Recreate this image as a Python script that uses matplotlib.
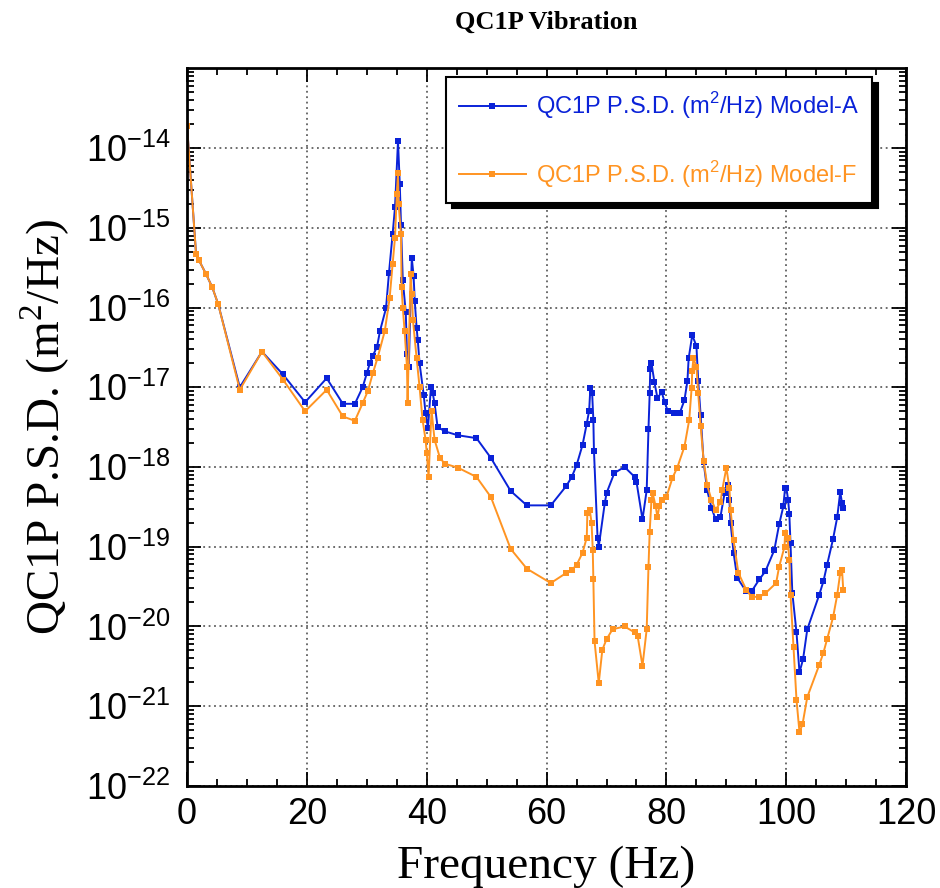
import numpy as np
import matplotlib
matplotlib.use('Agg')
import matplotlib.pyplot as plt
from matplotlib.ticker import FixedLocator, MultipleLocator, FuncFormatter, LogLocator, NullFormatter

# values
freq_a = [0.0, 1.5, 2.0, 3.2, 4.2, 5.2, 8.8, 12.5, 16.0, 19.7, 23.3, 26.0, 28.0, 29.3, 30.0,
          30.5, 31.0, 31.7, 32.2, 33.2, 33.7, 34.3, 34.7, 35.2, 35.5, 35.7, 36.0, 36.5, 36.7,
          37.0, 37.5, 37.8, 38.0, 38.3, 38.5, 38.8, 39.5, 39.8, 40.2, 40.7, 41.0, 41.3, 41.8,
          43.0, 45.2, 48.3, 50.7, 54.0, 56.7, 60.7, 63.3, 64.2, 65.0, 66.0, 66.7, 67.1, 67.3,
          67.6, 67.8, 67.9, 68.5, 68.7, 69.7, 70.0, 71.3, 73.0, 74.7, 75.0, 76.0, 76.7, 77.0,
          77.2, 77.3, 77.5, 78.0, 78.5, 79.2, 79.7, 80.2, 81.3, 82.2, 83.0, 83.5, 83.7, 84.3,
          85.0, 85.3, 85.7, 86.2, 86.8, 87.5, 88.2, 89.0, 89.7, 90.2, 90.5, 90.7, 91.2, 91.8,
          93.3, 94.2, 95.5, 96.5, 98.0, 98.8, 99.5, 99.8, 100.0, 100.3, 100.5, 100.7, 101.0,
          101.7, 102.2, 102.8, 103.5, 105.5, 106.2, 106.8, 107.8, 108.5, 109.0, 109.3, 109.5]
psd_a = [1.9e-14, 4.7e-16, 3.9e-16, 2.6e-16, 1.8e-16, 1.1e-16, 1.0e-17, 2.8e-17, 1.45e-17,
         6.5e-18, 1.3e-17, 6.2e-18, 6.2e-18, 1.0e-17, 1.5e-17, 2.0e-17, 2.5e-17, 3.2e-17,
         5.1e-17, 9.8e-17, 2.75e-16, 8.3e-16, 1.8e-15, 1.23e-14, 3.5e-15, 1.1e-15, 2.2e-16,
         8.7e-17, 2.6e-17, 1.8e-17, 4.2e-16, 2.5e-16, 1.2e-16, 5.6e-17, 3.9e-17, 2.0e-17,
         7.9e-18, 4.7e-18, 3.1e-18, 1.0e-17, 8.4e-18, 6.3e-18, 3.2e-18, 2.8e-18, 2.5e-18,
         2.3e-18, 1.3e-18, 5.0e-19, 3.3e-19, 3.3e-19, 5.8e-19, 7.5e-19, 1.05e-18, 1.9e-18,
         3.5e-18, 5.1e-18, 9.8e-18, 8.4e-18, 3.9e-18, 1.6e-18, 1.3e-19, 1.0e-19, 3.5e-19,
         4.7e-19, 8.4e-19, 1.0e-18, 7.5e-19, 6.5e-19, 2.2e-19, 5.1e-19, 3.0e-18, 8.4e-18,
         1.7e-17, 2.0e-17, 1.15e-17, 7.3e-18, 8.7e-18, 6.5e-18, 5.1e-18, 4.7e-18, 4.7e-18,
         6.9e-18, 1.2e-17, 2.3e-17, 4.5e-17, 3.3e-17, 1.2e-17, 4.5e-18, 1.15e-18, 5.1e-19,
         3.1e-19, 2.2e-19, 2.35e-19, 4.7e-19, 5.9e-19, 3.9e-19, 2.0e-19, 8.4e-20, 4.1e-20,
         2.75e-20, 2.75e-20, 3.9e-20, 4.9e-20, 9.1e-20, 1.9e-19, 3.2e-19, 5.5e-19, 5.5e-19,
         3.9e-19, 2.6e-19, 1.1e-19, 2.65e-20, 8.4e-21, 2.65e-21, 3.9e-21, 9.2e-21, 2.5e-20,
         3.7e-20, 5.9e-20, 1.25e-19, 2.35e-19, 4.9e-19, 3.5e-19, 3.1e-19]

freq_f = [0.0, 1.5, 2.0, 3.2, 4.2, 5.2, 8.8, 12.5, 16.0, 19.7, 23.3, 26.0, 28.0, 29.3, 30.2,
          31.0, 31.8, 33.0, 33.8, 34.3, 34.7, 35.0, 35.2, 35.3, 35.7, 35.8, 36.0, 36.3, 36.7,
          36.8, 37.3, 37.5, 37.7, 38.3, 38.8, 39.3, 39.8, 40.0, 40.3, 40.8, 41.3, 42.2, 43.0,
          45.2, 48.3, 50.7, 54.0, 56.7, 60.7, 63.3, 64.2, 65.0, 66.0, 66.7, 66.8, 67.2, 67.5,
          67.7, 67.8, 68.0, 68.7, 69.3, 70.0, 71.0, 73.0, 74.7, 75.2, 76.0, 76.7, 77.0, 77.2,
          77.5, 77.7, 78.2, 78.5, 78.8, 79.2, 80.0, 81.0, 81.8, 83.0, 83.8, 84.2, 84.3, 84.5,
          85.0, 85.3, 85.7, 86.2, 86.8, 87.5, 88.2, 89.0, 89.3, 90.0, 90.5, 90.7, 91.2, 92.0,
          93.3, 94.2, 95.5, 96.5, 98.3, 98.8, 99.7, 99.8, 100.2, 100.5, 100.7, 101.2, 101.7,
          102.2, 102.7, 103.5, 105.5, 106.2, 106.8, 107.8, 108.5, 109.0, 109.3, 109.5]
psd_f = [1.9e-14, 4.7e-16, 3.9e-16, 2.6e-16, 1.8e-16, 1.1e-16, 9.3e-18, 2.8e-17, 1.25e-17,
         5.0e-18, 9.3e-18, 4.3e-18, 3.8e-18, 6.3e-18, 9.1e-18, 1.5e-17, 2.35e-17, 5.1e-17,
         1.3e-16, 3.5e-16, 7.5e-16, 2.65e-15, 4.9e-15, 2.0e-15, 8.4e-16, 1.8e-16, 1.0e-16,
         5.1e-17, 1.8e-17, 6.3e-18, 2.65e-16, 1.5e-16, 6.9e-17, 2.35e-17, 1.0e-17, 3.9e-18,
         2.2e-18, 1.5e-18, 7.5e-19, 5.1e-18, 2.2e-18, 1.3e-18, 1.1e-18, 9.8e-19, 7.5e-19,
         4.2e-19, 9.4e-20, 5.3e-20, 3.5e-20, 4.7e-20, 5.1e-20, 5.9e-20, 8.4e-20, 1.3e-19,
         2.65e-19, 2.9e-19, 2.0e-19, 9.2e-20, 3.9e-20, 6.5e-21, 1.95e-21, 5.1e-21, 6.9e-21,
         9.2e-21, 1.0e-20, 8.4e-21, 7.5e-21, 3.2e-21, 9.2e-21, 5.6e-20, 1.55e-19, 3.9e-19,
         4.7e-19, 3.2e-19, 2.35e-19, 3.2e-19, 3.9e-19, 4.2e-19, 7.3e-19, 9.8e-19, 1.8e-18,
         3.9e-18, 9.8e-18, 1.6e-17, 2.3e-17, 1.8e-17, 8.4e-18, 3.3e-18, 1.2e-18, 5.9e-19,
         3.9e-19, 2.9e-19, 3.6e-19, 5.1e-19, 9.8e-19, 5.5e-19, 2.9e-19, 1.2e-19, 4.7e-20,
         2.9e-20, 2.35e-20, 2.35e-20, 2.6e-20, 3.5e-20, 5.6e-20, 1.0e-19, 1.5e-19, 1.3e-19,
         6.9e-20, 2.5e-20, 5.5e-21, 1.2e-21, 4.7e-22, 5.9e-22, 1.3e-21, 3.3e-21, 4.7e-21,
         6.9e-21, 1.3e-20, 2.5e-20, 4.7e-20, 5.1e-20, 2.9e-20]

label_a = 'QC1P P.S.D. (m$^\\mathregular{2}$/Hz) Model-A'
label_f = 'QC1P P.S.D. (m$^\\mathregular{2}$/Hz) Model-F'

blue = '#0a22d8'
orange = '#ff9422'

plt.rcParams['font.family'] = 'Liberation Sans'
plt.rcParams['mathtext.fontset'] = 'custom'
plt.rcParams['mathtext.rm'] = 'Liberation Sans'

fig = plt.figure(figsize=(9.4, 8.88), dpi=100)
ax = fig.add_axes([0.199, 0.115, 0.765, 0.808])

ax.plot(freq_a, psd_a, color=blue, lw=1.4, marker='s', ms=4.8, mew=0, label=label_a)
ax.plot(freq_f, psd_f, color=orange, lw=1.4, marker='s', ms=4.8, mew=0, label=label_f)

ax.set_yscale('log')
ax.set_xlim(0, 120)
ax.set_ylim(1e-22, 1e-13)

ax.xaxis.set_major_locator(MultipleLocator(20))
ax.xaxis.set_minor_locator(MultipleLocator(5))
ax.yaxis.set_major_locator(FixedLocator([10.0**e for e in range(-22, -13)]))
ax.yaxis.set_minor_locator(LogLocator(base=10, subs=np.arange(2, 10), numticks=20))
ax.yaxis.set_minor_formatter(NullFormatter())
ax.yaxis.set_major_formatter(FuncFormatter(
    lambda v, p: r'$\mathregular{10^{%d}}$' % int(round(np.log10(v)))))

ax.tick_params(which='both', direction='in', top=True, right=True, width=1.3)
ax.tick_params(which='major', length=10, labelsize=26)
ax.tick_params(which='minor', length=5)
ax.tick_params(axis='y', pad=12)
ax.tick_params(axis='x', pad=8)
for s in ax.spines.values():
    s.set_linewidth(2)

ax.grid(True, which='major', color='#606060', linestyle=(0, (1, 2)), linewidth=1.3)

ax.set_xlabel('Frequency (Hz)', family='Liberation Serif', fontsize=34, labelpad=10)
ax.set_ylabel('QC1P P.S.D. (m$^\\mathregular{2}$/Hz)', family='Liberation Serif',
              fontsize=34, labelpad=10)

fig.text(0.581, 0.975, 'QC1P Vibration', family='Liberation Serif', fontweight='bold',
         fontsize=19, ha='center', va='center')

leg = ax.legend(loc='upper right', bbox_to_anchor=(0.953, 0.988), borderaxespad=0,
                fontsize=17, fancybox=False, edgecolor='black', framealpha=1, numpoints=1,
                handlelength=2.8, handletextpad=0.45, labelspacing=1.6, borderpad=0.55,
                shadow={'color': 'black', 'alpha': 1, 'ox': 4, 'oy': -4})
leg.get_frame().set_linewidth(1.5)
for line in leg.get_lines():
    line.set_markersize(4)
for t, c in zip(leg.get_texts(), [blue, orange]):
    t.set_color(c)

fig.savefig('out.png', dpi=100)
